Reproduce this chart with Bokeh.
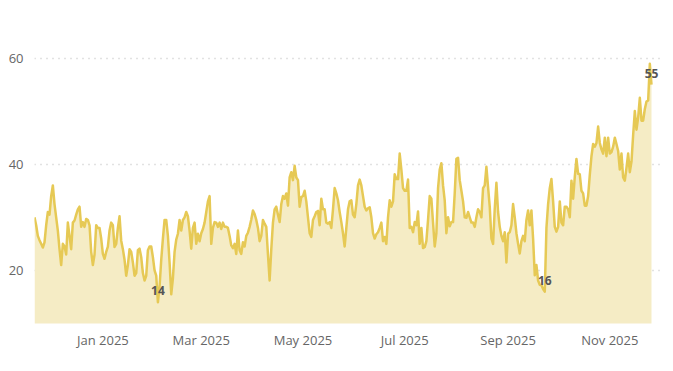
import pandas as pd
from bokeh.plotting import figure
from bokeh.models import ColumnDataSource, FixedTicker, MonthsTicker, DatetimeTickFormatter, Range1d
from bokeh.core.properties import value
from bokeh.embed import file_html
from bokeh.resources import INLINE

start_date = "2024-11-21"

seg_dec = [30, 28.5, 26.5, 25.7, 25, 24.3, 25.3, 28.5, 31, 30.5, 34, 36, 32.5, 30, 27.5, 24, 21, 25, 24.5, 23,
           29, 26.5, 24, 29, 29.4, 30.5, 31.5, 32, 28.2, 29.1, 28.2, 29.7, 29.5, 28.5, 23.5, 21, 23, 28.5, 28, 28,
           26, 23.1, 22.2, 23.5, 24.5, 27.5, 29, 28.5, 24.4, 25, 28, 30.2]
seg_feb = [25.6, 24, 22, 19, 21, 24, 23.5, 21.5, 19, 19.5, 23.8, 24.1, 22.5, 19.5, 18.1, 19, 23.8, 24.5, 24.5, 22.5,
           20, 19, 14, 17, 22, 26, 29.5, 29.5, 26.5, 21.5, 15.5, 18.5, 23.5, 25.8, 26.9, 29.5, 27.5, 29.5, 30, 31,
           30.2, 27.5, 24.1, 28, 29, 25, 26.9, 25.5, 27, 27.8, 29, 31, 33]
seg_apr = [34, 25, 28, 29.1, 29, 28.2, 29, 27.8, 29, 28.2, 28.2, 28, 26.5, 24.7, 24.2, 25, 23.1, 27.5, 23.8, 23.1,
           25.3, 24.5, 26.5, 27.1, 28.2, 29.6, 31.3, 30.6, 29.5, 28, 25.5, 26.5, 29.5, 28.8, 28.2, 23, 18.1, 24, 29, 31.5,
           32, 30.5, 29.1, 32.5, 34, 33.5, 34.5, 32.2, 37.5, 38.5, 37, 39.7, 37.5]
seg_jun = [37, 32, 33.8, 34, 35, 33, 30, 27, 26.3, 29.5, 30.2, 31, 31.2, 28.5, 33.5, 31.5, 31.5, 29, 28.8, 29.1,
           28, 31.5, 35.5, 34.5, 33.2, 31, 29.1, 27, 24.5, 28, 31.5, 33, 33.2, 30.5, 30, 32.5, 36, 37.1, 36, 34,
           32, 31.3, 31.7, 31.9, 30, 27, 26, 26.8, 27.2, 28, 29, 25.5, 26.3]
seg_jul = [25, 30, 33.2, 32, 33, 38.1, 37.2, 37.2, 42, 39, 35.5, 35, 35, 37.1, 28, 28.2, 27.2, 29.1, 28.5, 31.1,
           25, 28, 24.2, 24.4, 25.5, 29.5, 34, 33.5, 29, 24.5, 27, 35.5, 39, 40.2, 36, 33.2, 27, 30, 28.3, 29.1,
           29.1, 34.5, 41, 41.2, 37, 35, 33, 30, 29.9, 31, 30, 29]
seg_sep = [29, 28.2, 30, 31.5, 31, 30, 35.5, 36, 39.5, 35.7, 32, 26, 25, 31.6, 36.5, 31, 28.2, 26.5, 25.5, 27.2,
           21.5, 26.9, 27.2, 28.5, 32.5, 30, 27, 25, 23.2, 25.5, 26.5, 25.5, 29.5, 31.3, 28.5, 31.3, 26, 19.1, 21, 18.1,
           17.3, 17.2, 16.5, 16, 28, 32.5, 35.5, 37.2, 33, 28.2, 27.3, 28.2, 33]
seg_nov = [29, 28.5, 32, 32, 31.5, 30, 36.9, 33.5, 37.6, 41, 38.2, 38.1, 35, 34.5, 32.2, 32.2, 34, 38, 41.5, 43.8,
           43.3, 44, 47.1, 44, 42.8, 42, 45, 41.5, 45, 42, 42.3, 43.3, 45, 43.8, 42.5, 39, 42, 37.5, 36.9, 39.3,
           42, 38.5, 40.5, 45.5, 50, 46.5, 48.8, 52.5, 48.2, 48.2, 50.4, 51.8, 52, 58.9, 55]

y_ticks = [20, 40, 60]

values = seg_dec + seg_feb + seg_apr + seg_jun + seg_jul + seg_sep + seg_nov
dates = pd.date_range(start_date, periods=len(values), freq="D")
df = pd.DataFrame({"date": dates, "value": values})
src = ColumnDataSource(df)

# annotated points: overall minimum, autumn low, last value
i_min = int(df["value"].idxmin())
win = df[(df["date"] >= "2025-08-15") & (df["date"] <= "2025-10-15")]
i_low = int(win["value"].idxmin())
i_last = len(df) - 1
idx = [i_min, i_low, i_last]
lab = ColumnDataSource(dict(date=df["date"].iloc[idx], value=df["value"].iloc[idx],
                            text=[f"{v:.0f}" for v in df["value"].iloc[idx]]))

p = figure(width=673, height=371, x_axis_type="datetime", output_backend="svg", toolbar_location=None,
           min_border_left=34, min_border_right=12, min_border_top=40, min_border_bottom=48,
           x_range=Range1d(dates[0], dates[-1] + pd.Timedelta(days=6)), y_range=Range1d(10, 63.3))
p.outline_line_color = None
p.background_fill_color = "white"
p.border_fill_color = "white"

p.varea(x="date", y1=0, y2="value", source=src, fill_color="#F5ECC5")
p.line(x="date", y="value", source=src, line_color="#E6C955", line_width=2.5, line_join="round")
p.text(x="date", y="value", text="text", source=lab, text_align="center", text_baseline="bottom",
       y_offset=-7, text_font=value("Open Sans"), text_font_size="12px", text_font_style="bold",
       text_color="#555555")

p.xgrid.grid_line_color = None
p.ygrid.ticker = FixedTicker(ticks=y_ticks)
p.ygrid.grid_line_color = "#C4C4C4"
p.ygrid.grid_line_dash = "1 5"
p.ygrid.grid_line_width = 1.3

p.yaxis.ticker = FixedTicker(ticks=y_ticks)
p.xaxis.ticker = MonthsTicker(months=[0, 2, 4, 6, 8, 10])
p.xaxis.formatter = DatetimeTickFormatter(days="%b %Y", months="%b %Y", years="%b %Y")
for ax in (p.xaxis[0], p.yaxis[0]):
    ax.axis_line_color = None
    ax.major_tick_line_color = None
    ax.minor_tick_line_color = None
    ax.major_tick_out = 0
    ax.major_tick_in = 0
    ax.minor_tick_out = 0
    ax.major_label_text_font = "Open Sans"
    ax.major_label_text_font_size = "13px"
    ax.major_label_text_color = "#666666"
p.yaxis.major_label_standoff = 11
p.xaxis.major_label_standoff = 7

open("out.html", "w").write(file_html(p, INLINE))
